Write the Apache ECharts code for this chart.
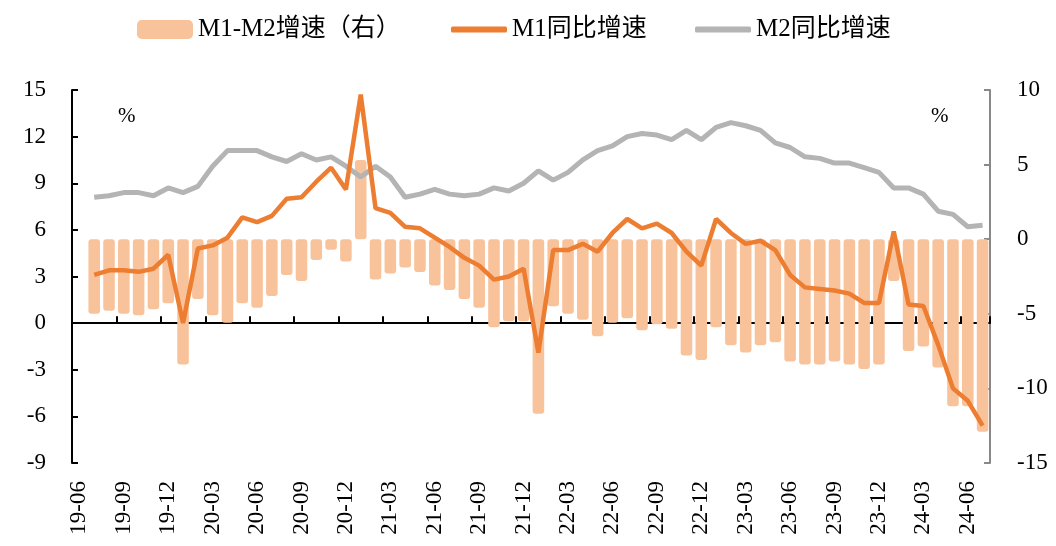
<!DOCTYPE html>
<html>
<head>
<meta charset="utf-8">
<script src="https://cdn.jsdelivr.net/npm/echarts@6/dist/echarts.min.js"></script>
<style>
  html, body { margin: 0; padding: 0; background: #fff; }
  #main { width: 1056px; height: 546px; }
</style>
</head>
<body>
<div id="main"></div>
<script>
// 月份（19-06 无数据，仅作坐标起点）
var months = ['19-06','19-07','19-08','19-09','19-10','19-11','19-12',
  '20-01','20-02','20-03','20-04','20-05','20-06','20-07','20-08','20-09','20-10','20-11','20-12',
  '21-01','21-02','21-03','21-04','21-05','21-06','21-07','21-08','21-09','21-10','21-11','21-12',
  '22-01','22-02','22-03','22-04','22-05','22-06','22-07','22-08','22-09','22-10','22-11','22-12',
  '23-01','23-02','23-03','23-04','23-05','23-06','23-07','23-08','23-09','23-10','23-11','23-12',
  '24-01','24-02','24-03','24-04','24-05','24-06','24-07'];

// M1同比增速 %
var m1 = [null, 3.1, 3.4, 3.4, 3.3, 3.5, 4.4,
  0.0, 4.8, 5.0, 5.5, 6.8, 6.5, 6.9, 8.0, 8.1, 9.1, 10.0, 8.6,
  14.7, 7.4, 7.1, 6.2, 6.1, 5.5, 4.9, 4.2, 3.7, 2.8, 3.0, 3.5,
  -1.9, 4.7, 4.7, 5.1, 4.6, 5.8, 6.7, 6.1, 6.4, 5.8, 4.6, 3.7,
  6.7, 5.8, 5.1, 5.3, 4.7, 3.1, 2.3, 2.2, 2.1, 1.9, 1.3, 1.3,
  5.9, 1.2, 1.1, -1.4, -4.2, -5.0, -6.6];

// M2同比增速 %
var m2 = [null, 8.1, 8.2, 8.4, 8.4, 8.2, 8.7,
  8.4, 8.8, 10.1, 11.1, 11.1, 11.1, 10.7, 10.4, 10.9, 10.5, 10.7, 10.1,
  9.4, 10.1, 9.4, 8.1, 8.3, 8.6, 8.3, 8.2, 8.3, 8.7, 8.5, 9.0,
  9.8, 9.2, 9.7, 10.5, 11.1, 11.4, 12.0, 12.2, 12.1, 11.8, 12.4, 11.8,
  12.6, 12.9, 12.7, 12.4, 11.6, 11.3, 10.7, 10.6, 10.3, 10.3, 10.0, 9.7,
  8.7, 8.7, 8.3, 7.2, 7.0, 6.2, 6.3];

// M1-M2增速差（右轴）
var gap = [null, -5.0, -4.8, -5.0, -5.1, -4.7, -4.3,
  -8.4, -4.0, -5.1, -5.6, -4.3, -4.6, -3.8, -2.4, -2.8, -1.4, -0.7, -1.5,
  5.3, -2.7, -2.3, -1.9, -2.2, -3.1, -3.4, -4.0, -4.6, -5.9, -5.5, -5.5,
  -11.7, -4.5, -5.0, -5.4, -6.5, -5.6, -5.3, -6.1, -5.7, -6.0, -7.8, -8.1,
  -5.9, -7.1, -7.6, -7.1, -6.9, -8.2, -8.4, -8.4, -8.2, -8.4, -8.7, -8.4,
  -2.8, -7.5, -7.2, -8.6, -11.2, -11.2, -12.9];

var FONT = '"Liberation Serif", "Noto Sans CJK SC", serif';
var C_BAR = '#F8C29B', C_M1 = '#ED7D31', C_M2 = '#B4B4B4';

var legendBase = {
    top: 12,
    itemWidth: 56,
    itemHeight: 19,
    icon: 'roundRect',
    textStyle: { fontFamily: FONT, fontSize: 25, color: '#000' }
};

var myChart = echarts.init(document.getElementById('main'));
var option = {
    animation: false,
    backgroundColor: '#fff',
    legend: [
        Object.assign({}, legendBase, { left: 132, data: ['M1-M2增速（右）'] }),
        Object.assign({}, legendBase, { left: 446, itemHeight: 6, data: ['M1同比增速'] }),
        Object.assign({}, legendBase, { left: 690, itemHeight: 6, data: ['M2同比增速'] })
    ],
    grid: { left: 72, right: 66, top: 90, bottom: 83, containLabel: false },
    xAxis: [{
        type: 'category',
        data: months,
        boundaryGap: true,
        axisLine: { onZero: true, onZeroAxisIndex: 0, lineStyle: { color: '#000', width: 2 } },
        axisTick: { show: true, inside: true, length: 7, interval: 2, lineStyle: { color: '#000', width: 2 } },
        axisLabel: { show: false }
    }, {
        type: 'category',
        data: months,
        position: 'bottom',
        boundaryGap: true,
        axisLine: { show: false, onZero: false },
        axisTick: { show: false },
        axisLabel: {
            interval: 2, rotate: 90, margin: 18,
            fontFamily: FONT, fontSize: 23, color: '#000'
        }
    }],
    yAxis: [{
        type: 'value',
        position: 'left',
        min: -9, max: 15, interval: 3,
        splitLine: { show: false },
        axisLine: { show: true, lineStyle: { color: '#000', width: 2 } },
        axisTick: { show: true, inside: true, length: 6, lineStyle: { color: '#000', width: 2 } },
        axisLabel: { margin: 26, fontFamily: FONT, fontSize: 23, color: '#000' }
    }, {
        type: 'value',
        position: 'right',
        min: -15, max: 10, interval: 5,
        splitLine: { show: false },
        axisLine: { show: true, lineStyle: { color: '#888', width: 2 } },
        axisTick: { show: true, inside: true, length: 6, lineStyle: { color: '#888', width: 2 } },
        axisLabel: { margin: 27, fontFamily: FONT, fontSize: 23, color: '#000' }
    }],
    graphic: [
        { type: 'text', left: 118, top: 106, style: { text: '%', font: '21px "Liberation Serif"', fill: '#000' } },
        { type: 'text', left: 931, top: 106, style: { text: '%', font: '21px "Liberation Serif"', fill: '#000' } }
    ],
    series: [{
        name: 'M1-M2增速（右）',
        type: 'bar',
        xAxisIndex: 0,
        yAxisIndex: 1,
        data: gap,
        barWidth: '78%',
        itemStyle: { color: C_BAR, borderRadius: 3 }
    }, {
        name: 'M2同比增速',
        type: 'line',
        xAxisIndex: 0,
        yAxisIndex: 0,
        data: m2,
        symbol: 'none',
        lineStyle: { color: C_M2, width: 5 },
        itemStyle: { color: C_M2 }
    }, {
        name: 'M1同比增速',
        type: 'line',
        xAxisIndex: 0,
        yAxisIndex: 0,
        data: m1,
        symbol: 'none',
        lineStyle: { color: C_M1, width: 4.5 },
        itemStyle: { color: C_M1 }
    }]
};
myChart.setOption(option);
</script>
</body>
</html>
